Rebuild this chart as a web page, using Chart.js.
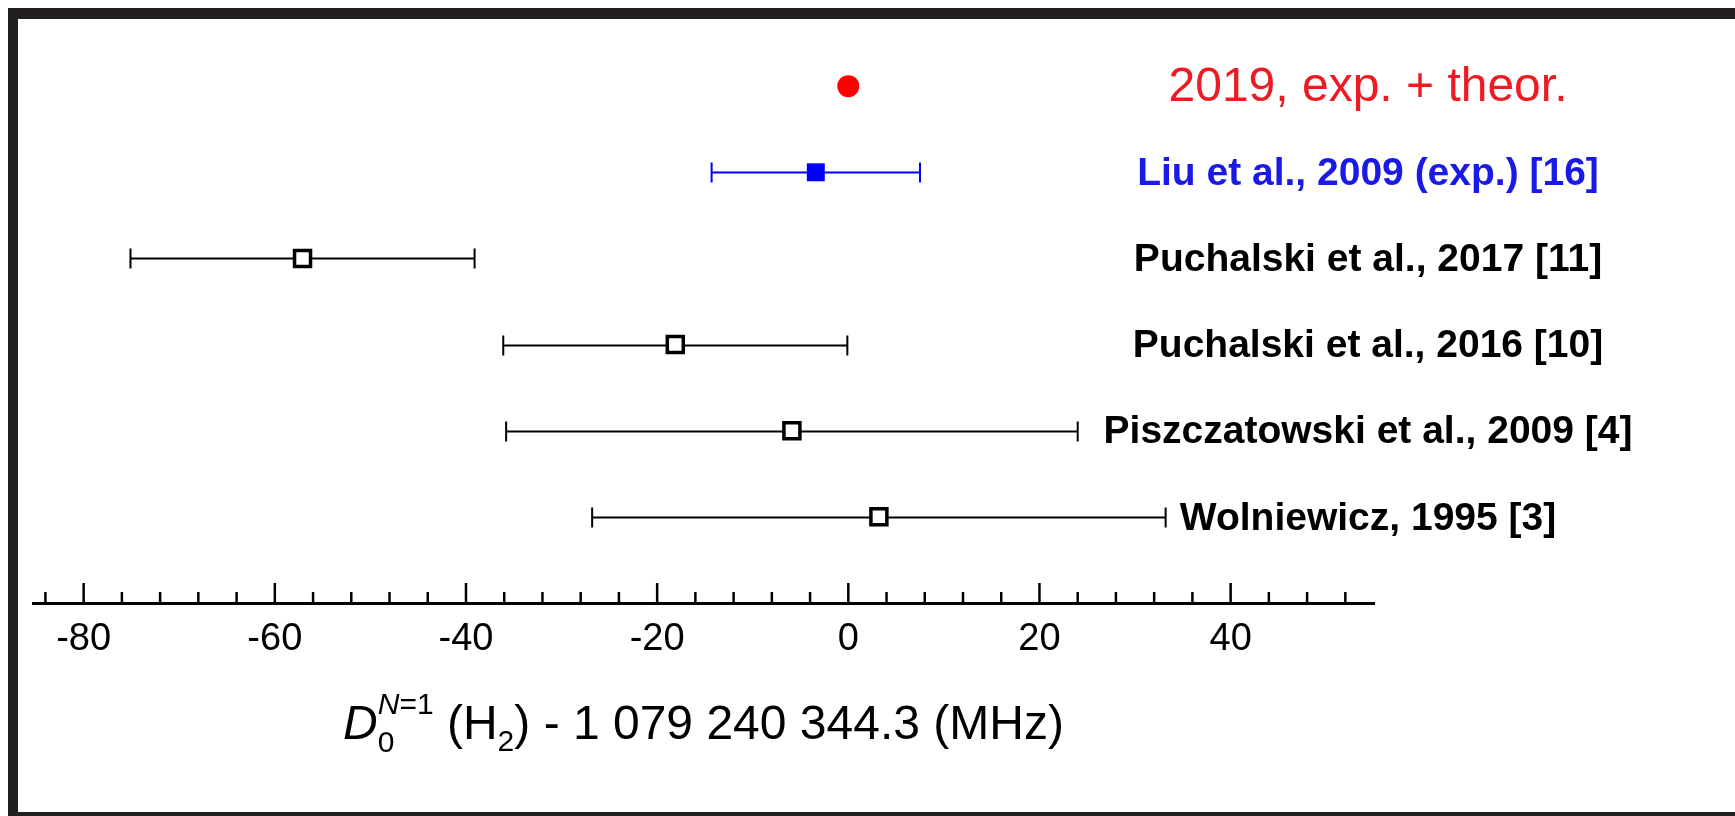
<!DOCTYPE html>
<html>
<head>
<meta charset="utf-8">
<script src="https://cdn.jsdelivr.net/npm/chart.js@4.4.0/dist/chart.umd.min.js"></script>
<style>
  html, body { margin: 0; padding: 0; background: #fff; overflow: hidden; }
  #wrap { position: relative; width: 1735px; height: 816px; }
  #frame {
    position: absolute; left: 8px; top: 8px; width: 1800px; height: 814px;
    box-sizing: border-box; border: solid #231f20; border-width: 11px 0 10px 10px;
    pointer-events: none;
  }
</style>
</head>
<body>
<div id="wrap">
  <canvas id="chart"></canvas>
  <div id="frame"></div>
</div>
<script>
// rows, top to bottom
const rowLabels = [
  '2019, exp. + theor.',
  'Liu et al., 2009 (exp.) [16]',
  'Puchalski et al., 2017 [11]',
  'Puchalski et al., 2016 [10]',
  'Piszczatowski et al., 2009 [4]',
  'Wolniewicz, 1995 [3]'
];
// offset from 1 079 240 344.3 MHz and its uncertainty
const centers = [0, -3.4, -57.1, -18.1, -5.9, 3.2];
const errors = [0, 10.9, 18.0, 18.0, 29.9, 30.0];

const majorTicks = [-80, -60, -40, -20, 0, 20, 40];
const minorStep = 4;
const xMin = -85.3;
const xMax = 55;

const FONT = "'Liberation Sans', Arial, sans-serif";
const isMajor = v => majorTicks.some(m => Math.abs(m - v) < 1e-6);
const rowColor = i => (i === 0 ? '#ff0000' : i === 1 ? '#0000ff' : '#000000');

const errorBars = {
  id: 'errorBars',
  beforeDatasetsDraw(chart) {
    const { ctx, scales: { x, y } } = chart;
    ctx.save();
    ctx.lineWidth = 2;
    centers.forEach((c, i) => {
      if (!errors[i]) return;
      const py = Math.round(y.getPixelForValue(i)) + 0.5;
      const x1 = x.getPixelForValue(c - errors[i]);
      const x2 = x.getPixelForValue(c + errors[i]);
      ctx.strokeStyle = rowColor(i);
      ctx.beginPath();
      ctx.moveTo(x1, py); ctx.lineTo(x2, py);
      ctx.moveTo(x1, py - 10); ctx.lineTo(x1, py + 10);
      ctx.moveTo(x2, py - 10); ctx.lineTo(x2, py + 10);
      ctx.stroke();
    });
    ctx.restore();
  }
};

const axisTicks = {
  id: 'axisTicks',
  afterDraw(chart) {
    const { ctx, scales: { x } } = chart;
    const base = x.top;
    ctx.save();
    ctx.strokeStyle = '#000';
    ctx.lineWidth = 2.5;
    x.ticks.forEach(t => {
      const px = x.getPixelForValue(t.value);
      const len = isMajor(t.value) ? 20 : 11;
      ctx.beginPath();
      ctx.moveTo(px, base);
      ctx.lineTo(px, base - len);
      ctx.stroke();
    });
    ctx.restore();
  }
};

const rowText = {
  id: 'rowText',
  afterDraw(chart) {
    const { ctx, chartArea, scales: { y } } = chart;
    const cx = chartArea.right - 6;
    ctx.save();
    ctx.textAlign = 'center';
    ctx.textBaseline = 'middle';
    rowLabels.forEach((label, i) => {
      if (i === 0) {
        ctx.font = '48px ' + FONT;
        ctx.fillStyle = '#ed1c24';
      } else {
        ctx.font = 'bold 39px ' + FONT;
        ctx.fillStyle = i === 1 ? '#1a1ae6' : '#000';
      }
      ctx.fillText(label, cx, y.getPixelForValue(i) + 2);
    });
    ctx.restore();
  }
};

// D0^(N=1) (H2) - 1 079 240 344.3 (MHz)
const axisTitle = {
  id: 'axisTitle',
  afterDraw(chart) {
    const { ctx, chartArea } = chart;
    const f = 48, s = 30;
    const big = st => `${st} ${f}px ${FONT}`;
    const small = st => `${st} ${s}px ${FONT}`;
    const parts = [
      { t: 'D', font: big('italic'), dy: 0 },
      { t: '0', font: small('normal'), dy: 13, stack: true },
      { t: 'N', font: small('italic'), dy: -25 },
      { t: '=1', font: small('normal'), dy: -25 },
      { t: ' (H', font: big('normal'), dy: 0 },
      { t: '2', font: small('normal'), dy: 12 },
      { t: ') - 1 079 240 344.3 (MHz)', font: big('normal'), dy: 0 }
    ];
    ctx.save();
    ctx.fillStyle = '#000';
    ctx.textBaseline = 'alphabetic';
    ctx.textAlign = 'left';
    let total = 0;
    parts.forEach(p => {
      ctx.font = p.font;
      p.w = ctx.measureText(p.t).width;
      if (!p.stack) total += p.w;
    });
    let xx = (chartArea.left + chartArea.right) / 2 - total / 2;
    const base = chartArea.bottom + 136;
    parts.forEach(p => {
      ctx.font = p.font;
      ctx.fillText(p.t, xx, base + p.dy);
      if (!p.stack) xx += p.w;
    });
    ctx.restore();
  }
};

new Chart(document.getElementById('chart'), {
  type: 'scatter',
  data: {
    datasets: [{
      data: centers.map((c, i) => ({ x: c, y: i })),
      pointStyle: ['circle', 'rect', 'rect', 'rect', 'rect', 'rect'],
      pointRadius: [11, 12.7, 11.3, 11.3, 11.3, 11.3],
      backgroundColor: ['#ff0000', '#0000ff', '#fff', '#fff', '#fff', '#fff'],
      borderColor: ['#ff0000', '#0000ff', '#000', '#000', '#000', '#000'],
      borderWidth: [0, 0, 3.5, 3.5, 3.5, 3.5]
    }]
  },
  options: {
    responsive: true,
    maintainAspectRatio: false,
    animation: false,
    layout: { autoPadding: false, padding: { left: 33, right: 361, top: 0, bottom: 0 } },
    plugins: { legend: { display: false }, tooltip: { enabled: false } },
    scales: {
      x: {
        type: 'linear',
        min: xMin,
        max: xMax,
        afterFit: s => { s.height = 213; },
        grid: { display: false, drawTicks: false },
        border: { display: true, color: '#000', width: 3 },
        ticks: {
          stepSize: minorStep,
          includeBounds: false,
          autoSkip: false,
          maxRotation: 0,
          padding: 14,
          color: '#000',
          font: { size: 38, family: FONT },
          callback: v => (isMajor(v) ? String(Math.round(v)) : '')
        }
      },
      y: {
        type: 'linear',
        min: -1,
        max: 6,
        reverse: true,
        display: false
      }
    }
  },
  plugins: [errorBars, axisTicks, rowText, axisTitle]
});
</script>
</body>
</html>
